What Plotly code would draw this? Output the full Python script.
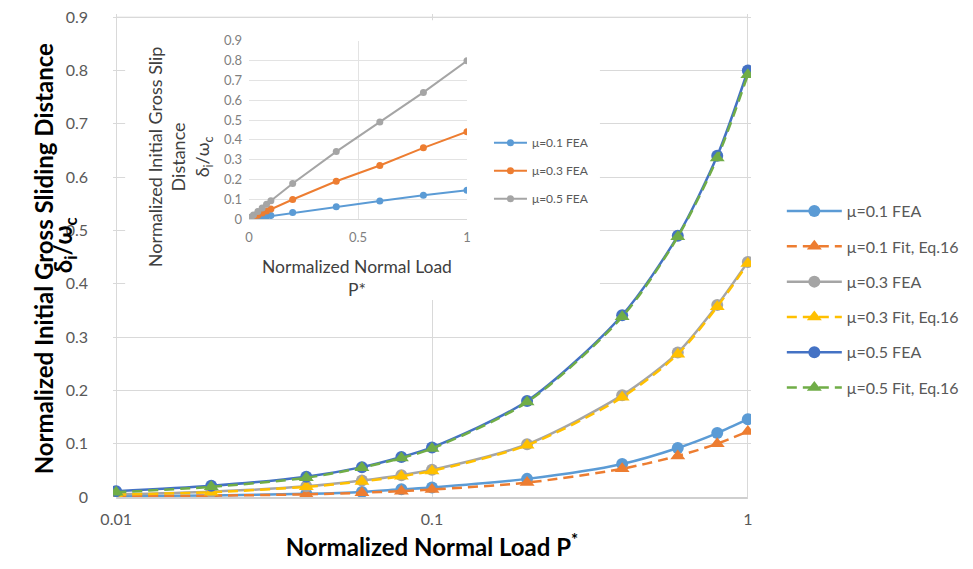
import plotly.graph_objects as go

# ---- data ----
P = [0.01, 0.02, 0.04, 0.06, 0.08, 0.1, 0.2, 0.4, 0.6, 0.8, 1.0]
mu01_fea = [0.0015, 0.003, 0.006, 0.0095, 0.0145, 0.018, 0.034, 0.062, 0.092, 0.120, 0.146]
mu01_fit = [0.001, 0.0025, 0.005, 0.008, 0.011, 0.014, 0.027, 0.053, 0.077, 0.100, 0.123]
mu03_fea = [0.005, 0.010, 0.020, 0.031, 0.041, 0.051, 0.099, 0.191, 0.271, 0.360, 0.441]
mu03_fit = [0.0045, 0.009, 0.019, 0.029, 0.039, 0.049, 0.097, 0.187, 0.268, 0.357, 0.438]
mu05_fea = [0.011, 0.021, 0.038, 0.056, 0.075, 0.093, 0.180, 0.341, 0.490, 0.640, 0.800]
mu05_fit = [0.009, 0.019, 0.036, 0.055, 0.073, 0.091, 0.178, 0.338, 0.488, 0.636, 0.792]

x_tickvals = [0.01, 0.1, 1]
x_ticktext = ["0.01", "0.1", "1"]
y_tickvals = [0, 0.1, 0.2, 0.3, 0.4, 0.5, 0.6, 0.7, 0.8, 0.9]
y_ticktext = ["0", "0.1", "0.2", "0.3", "0.4", "0.5", "0.6", "0.7", "0.8", "0.9"]
inset_x_tickvals = [0, 0.5, 1]
inset_x_ticktext = ["0", "0.5", "1"]

main_series = [
    ("μ=0.1 FEA", mu01_fea, "#5B9BD5", "solid", "circle"),
    ("μ=0.1 Fit, Eq.16", mu01_fit, "#ED7D31", "10px,6px", "triangle-up"),
    ("μ=0.3 FEA", mu03_fea, "#A5A5A5", "solid", "circle"),
    ("μ=0.3 Fit, Eq.16", mu03_fit, "#FFC000", "10px,6px", "triangle-up"),
    ("μ=0.5 FEA", mu05_fea, "#4472C4", "solid", "circle"),
    ("μ=0.5 Fit, Eq.16", mu05_fit, "#70AD47", "10px,6px", "triangle-up"),
]

inset_series = [
    ("μ=0.1 FEA", mu01_fea, "#5B9BD5"),
    ("μ=0.3 FEA", mu03_fea, "#ED7D31"),
    ("μ=0.5 FEA", mu05_fea, "#A5A5A5"),
]

FONT = "Lato"
OFF = 8                      # default page body margin
W, H = 973 - OFF, 569 - OFF

# screen position of the data frame: log10(P) -2..0 -> 116..748, y 0..0.9 -> 497..17
X0S, X1S, Y0S, Y9S = 116, 748, 497, 17
XR = [-2.01, 0.01]           # small padding so edge gridlines are kept
YR = [0, 0.906]


def xs(logv):
    return X0S + (logv + 2) / 2 * (X1S - X0S)


def ys(v):
    return Y0S - v / 0.9 * (Y0S - Y9S)


PL, PR, PT, PB = xs(XR[0]), xs(XR[1]), ys(YR[1]), ys(YR[0])
PW, PH = PR - PL, PB - PT
L, T = PL - OFF, PT - OFF
R, B = W - L - PW, H - T - PH


def sx(px):   # screen x -> paper x
    return (px - PL) / PW


def sy(py):   # screen y -> paper y
    return (PB - py) / PH


def px_to_logx(px):
    return 10 ** (XR[0] + (XR[1] - XR[0]) * sx(px))


def py_to_y(py):
    return YR[0] + (YR[1] - YR[0]) * sy(py)


fig = go.Figure()

# white backdrop behind the inset (covers main gridlines, stays under the data)
bx0, bx1 = px_to_logx(125), px_to_logx(600)
by0, by1 = py_to_y(300), py_to_y(20)
fig.add_trace(go.Scatter(
    x=[bx0, bx1, bx1, bx0, bx0], y=[by0, by0, by1, by1, by0],
    mode="lines", fill="toself", fillcolor="white", line=dict(width=0, color="white"),
    hoverinfo="skip", showlegend=False, xaxis="x", yaxis="y",
))

for i, (name, vals, color, dash, sym) in enumerate(main_series):
    fig.add_trace(go.Scatter(
        x=P, y=vals, name=name, mode="lines+markers",
        line=dict(color=color, width=2.5, dash=dash, shape="spline", smoothing=0.8),
        marker=dict(color=color, size=12 if sym == "circle" else 13, symbol=sym,
                    line=dict(width=0)),
        xaxis="x", yaxis="y", legend="legend", legendgroup="m%d" % i,
    ))

for i, (name, vals, color) in enumerate(inset_series):
    fig.add_trace(go.Scatter(
        x=P, y=vals, name=name, mode="lines+markers",
        line=dict(color=color, width=2),
        marker=dict(color=color, size=7, symbol="circle"),
        xaxis="x2", yaxis="y2", legend="legend2", legendgroup="i%d" % i,
    ))

fig.update_layout(
    width=W, height=H,
    margin=dict(l=L, r=R, t=T, b=B, autoexpand=False),
    paper_bgcolor="white", plot_bgcolor="white",
    font=dict(family=FONT, color="#595959", size=16),
    xaxis=dict(
        type="log", range=XR, tickvals=x_tickvals, ticktext=x_ticktext,
        showgrid=True, gridcolor="#D9D9D9", gridwidth=1,
        showline=False, zeroline=False, ticks="", ticklabelstandoff=11,
        ticklabeloverflow="allow",
        tickfont=dict(size=16, color="#595959"),
        automargin=False,
        title=dict(text="<b>Normalized Normal Load P<sup>*</sup></b>",
                   font=dict(size=24, color="#000000"), standoff=12),
    ),
    yaxis=dict(
        range=YR, tickvals=y_tickvals, ticktext=y_ticktext,
        showgrid=True, gridcolor="#D9D9D9", gridwidth=1,
        showline=False, zeroline=False, ticks="", ticklabelstandoff=24,
        ticklabeloverflow="allow",
        tickfont=dict(size=16, color="#595959"),
        automargin=False,
    ),
    xaxis2=dict(
        domain=[sx(249), sx(467)], anchor="y2", range=[0, 1],
        tickvals=inset_x_tickvals, ticktext=inset_x_ticktext,
        showgrid=True, gridcolor="#E3E3E3", showline=True, linecolor="#D9D9D9",
        zeroline=False, ticks="", ticklabelstandoff=6,
        tickfont=dict(size=13, color="#7F7F7F"),
        automargin=False,
    ),
    yaxis2=dict(
        domain=[sy(219), sy(40.7)], anchor="x2", range=[0, 0.9],
        tickvals=y_tickvals, ticktext=y_ticktext,
        showgrid=True, gridcolor="#E3E3E3", showline=False,
        zeroline=False, ticks="", ticklabelstandoff=6,
        tickfont=dict(size=13, color="#7F7F7F"),
        automargin=False,
    ),
    legend=dict(
        x=sx(782), xanchor="left", y=sy(194), yanchor="top",
        font=dict(size=16, color="#595959"), itemwidth=55,
        tracegroupgap=11.5, bgcolor="rgba(0,0,0,0)",
    ),
    legend2=dict(
        x=sx(489), xanchor="left", y=sy(128), yanchor="top",
        font=dict(size=12, color="#595959"), itemwidth=33,
        tracegroupgap=9, bgcolor="rgba(0,0,0,0)",
    ),
    annotations=[
        dict(text="<b>Normalized Initial Gross Sliding Distance</b>",
             xref="paper", yref="paper", xanchor="center", yanchor="middle",
             x=sx(43), y=sy(259), textangle=-90, showarrow=False,
             font=dict(size=24, color="#000000", family=FONT)),
        dict(text="<b>δ<sub>i</sub>/ω<sub>c</sub></b>",
             xref="paper", yref="paper", xanchor="center", yanchor="middle",
             x=sx(64), y=sy(245), textangle=-90, showarrow=False,
             font=dict(size=24, color="#000000", family=FONT)),
        dict(text="Normalized Initial Gross Slip<br>Distance<br>δ<sub>i</sub>/ω<sub>c</sub>",
             xref="paper", yref="paper", xanchor="center", yanchor="middle",
             x=sx(180), y=sy(157), textangle=-90, showarrow=False,
             font=dict(size=18, color="#404040", family=FONT)),
        dict(text="Normalized Normal Load<br>P*",
             xref="paper", yref="paper", xanchor="center", yanchor="middle",
             x=sx(357), y=sy(277.5), showarrow=False,
             font=dict(size=17.5, color="#404040", family=FONT)),
    ],
    shapes=[
        dict(type="line", xref="paper", yref="y",
             x0=sx(X0S), x1=sx(X1S), y0=0.9, y1=0.9,
             line=dict(color="#D9D9D9", width=1), layer="below"),
        dict(type="line", xref="paper", yref="paper",
             x0=sx(X0S), x1=sx(X1S), y0=sy(Y0S + 1), y1=sy(Y0S + 1),
             line=dict(color="#BFBFBF", width=1.5), layer="above"),
    ],
)

fig.write_html("out.html")
